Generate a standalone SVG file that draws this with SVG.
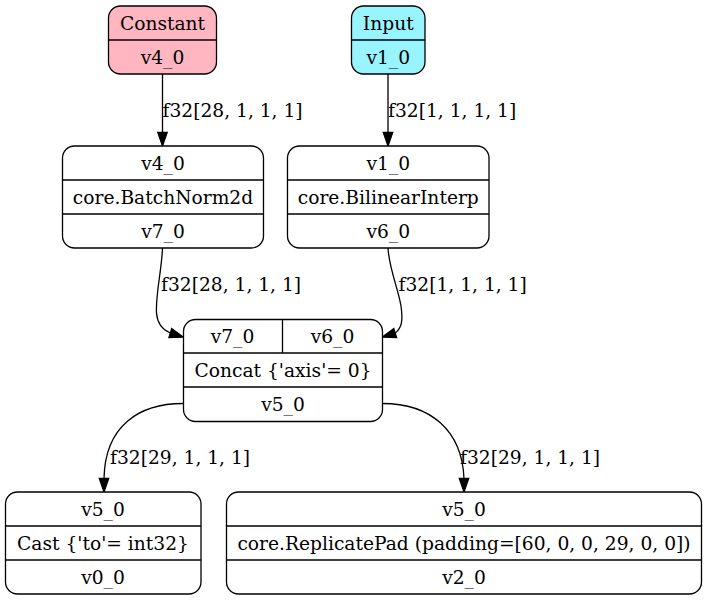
<svg xmlns="http://www.w3.org/2000/svg" width="706" height="601" viewBox="0 0 706 601">
<style>
text{font-family:"DejaVu Serif","Liberation Serif",serif;font-size:18.67px;fill:#000}
.c{text-anchor:middle}
.box{fill:#fff;stroke:#000;stroke-width:1.3}
.ln{stroke:#000;stroke-width:1.3;fill:none}
.e{stroke:#000;stroke-width:1.3;fill:none}
.ah{fill:#000;stroke:#000;stroke-width:1.3}
</style>
<rect width="706" height="601" fill="#fff"/>
<g id="connectors">
<path class="e" d="M162.5,74 L162.5,132.5"/>
<polygon class="ah" points="162.5,146 157.8,132.5 167.2,132.5"/>
<text x="162.5" y="116.5">f32[28, 1, 1, 1]</text>
<path class="e" d="M388,74 L388,132.5"/>
<polygon class="ah" points="388,146 383.3,132.5 392.7,132.5"/>
<text x="388" y="116.5">f32[1, 1, 1, 1]</text>
<path class="e" d="M162.5,248 C161.5,272 155.5,294 156.5,313 C157.5,325 163,330 170.3,333"/>
<polygon class="ah" points="183,337 168.9,337.5 171.7,328.5"/>
<text x="161" y="290.5">f32[28, 1, 1, 1]</text>
<path class="e" d="M388,248 C389,268 398,288 401,306 C403,320 402,328 395.2,333"/>
<polygon class="ah" points="382.5,337 396.6,337.5 393.8,328.5"/>
<text x="398.5" y="290.5">f32[1, 1, 1, 1]</text>
<path class="e" d="M183,403.5 C140,403.5 105,425 104,478.5"/>
<polygon class="ah" points="104,492 99.3,478.5 108.7,478.5"/>
<text x="110" y="463.5">f32[29, 1, 1, 1]</text>
<path class="e" d="M382.5,403.5 C430,403.5 462,430 464,478.5"/>
<polygon class="ah" points="464,492 459.3,478.5 468.7,478.5"/>
<text x="460" y="463.5">f32[29, 1, 1, 1]</text>
</g>
<g id="constant">
<rect class="box" x="108.5" y="6" width="108" height="68" rx="12" style="fill:#ffb6c1"/>
<line class="ln" x1="108.5" y1="40" x2="216.5" y2="40"/>
<text class="c" x="162.5" y="29.5">Constant</text>
<text class="c" x="162.5" y="63.5">v4_0</text>
</g>
<g id="input">
<rect class="box" x="351.5" y="6" width="73.5" height="68" rx="12" style="fill:#98f5ff"/>
<line class="ln" x1="351.5" y1="40" x2="425" y2="40"/>
<text class="c" x="388.25" y="29.5">Input</text>
<text class="c" x="388.25" y="63.5">v1_0</text>
</g>
<g id="batchnorm">
<rect class="box" x="62.5" y="146" width="201" height="102" rx="12"/>
<line class="ln" x1="62.5" y1="180" x2="263.5" y2="180"/>
<line class="ln" x1="62.5" y1="214" x2="263.5" y2="214"/>
<text class="c" x="163" y="169.5">v4_0</text>
<text class="c" x="163" y="203.5">core.BatchNorm2d</text>
<text class="c" x="163" y="237.5">v7_0</text>
</g>
<g id="bilinear">
<rect class="box" x="287.5" y="146" width="201.5" height="102" rx="12"/>
<line class="ln" x1="287.5" y1="180" x2="489" y2="180"/>
<line class="ln" x1="287.5" y1="214" x2="489" y2="214"/>
<text class="c" x="388.25" y="169.5">v1_0</text>
<text class="c" x="388.25" y="203.5">core.BilinearInterp</text>
<text class="c" x="388.25" y="237.5">v6_0</text>
</g>
<g id="concat">
<rect class="box" x="183.5" y="319.5" width="199" height="102" rx="12"/>
<line class="ln" x1="282.5" y1="319.5" x2="282.5" y2="353"/>
<line class="ln" x1="183.5" y1="353" x2="382.5" y2="353"/>
<line class="ln" x1="183.5" y1="387" x2="382.5" y2="387"/>
<text class="c" x="232.5" y="343">v7_0</text>
<text class="c" x="332.5" y="343">v6_0</text>
<text class="c" x="283" y="376.5">Concat {'axis'= 0}</text>
<text class="c" x="283" y="410.5">v5_0</text>
</g>
<g id="cast">
<rect class="box" x="5.5" y="492" width="195.5" height="102" rx="12"/>
<line class="ln" x1="5.5" y1="526" x2="201" y2="526"/>
<line class="ln" x1="5.5" y1="560" x2="201" y2="560"/>
<text class="c" x="103" y="515.5">v5_0</text>
<text class="c" x="103" y="549.5">Cast {'to'= int32}</text>
<text class="c" x="103" y="583.5">v0_0</text>
</g>
<g id="replicatepad">
<rect class="box" x="226.5" y="492" width="475" height="102" rx="12"/>
<line class="ln" x1="226.5" y1="526" x2="701.5" y2="526"/>
<line class="ln" x1="226.5" y1="560" x2="701.5" y2="560"/>
<text class="c" x="464" y="515.5">v5_0</text>
<text class="c" x="464" y="549.5">core.ReplicatePad (padding=[60, 0, 0, 29, 0, 0])</text>
<text class="c" x="464" y="583.5">v2_0</text>
</g>
</svg>
